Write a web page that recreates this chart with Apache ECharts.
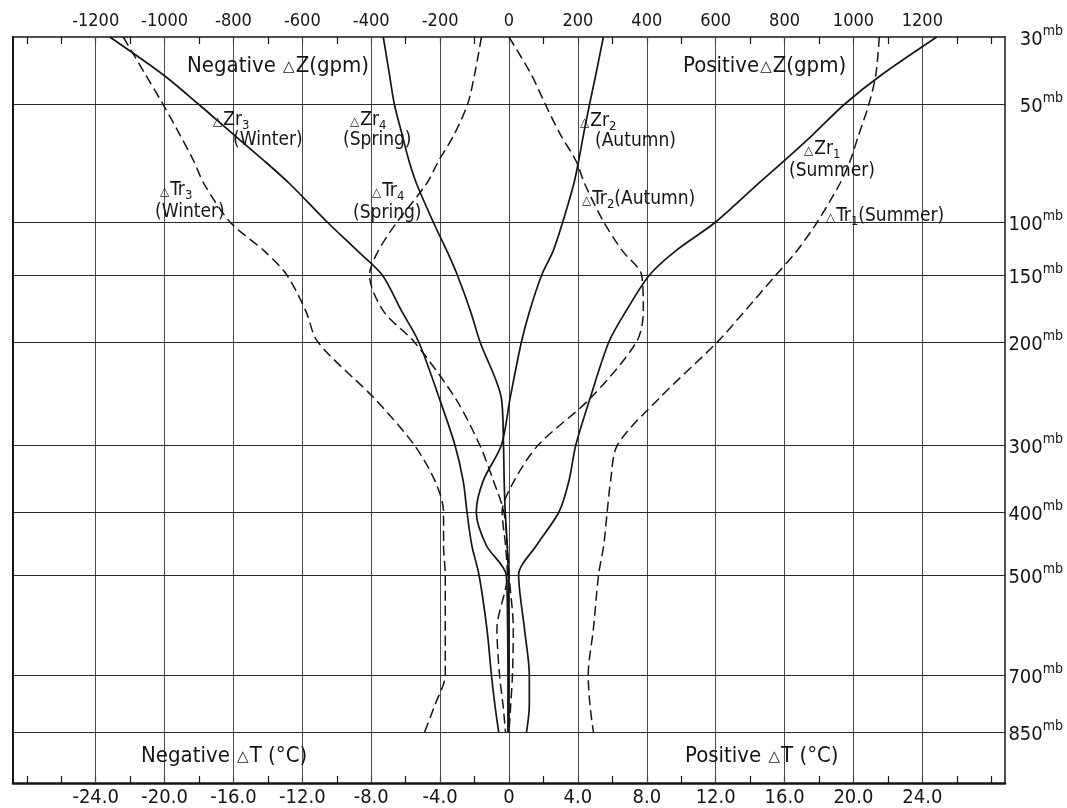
<!DOCTYPE html>
<html><head><meta charset="utf-8">
<script src="https://cdn.jsdelivr.net/npm/echarts@6/dist/echarts.min.js"></script>
<style>html,body{margin:0;padding:0;background:#fff}#c{width:1067px;height:808px}</style>
</head><body><div id="c"></div>
<script>
// ---- data ----
const pressure = [30, 40, 50, 60, 70, 80, 100, 125, 150, 175, 200, 250, 300, 350, 400, 450, 500, 600, 700, 775, 850];
// Height anomalies dZ (gpm), solid lines, top axis
const dzSummer = [1242, 1082, 975, 881, 797, 722, 600, 483, 408, 340, 290, 235, 194, 174, 145, 80, 28, 45, 59, 59, 51];
const dzAutumn = [274, 252, 234, 216, 202, 188, 156, 128, 95, 60, 36, 3, -22, -75, -95, -66, -8, -4, -3, -3, -3];
const dzWinter = [-1159, -1004, -902, -798, -709, -636, -528, -439, -368, -312, -262, -202, -157, -133, -122, -108, -87, -64, -51, -41, -30];
const dzSpring = [-365, -347, -333, -310, -290, -268, -220, -180, -150, -112, -84, -22, -16, -14, -11, -5, -2, 0, 0, -1, -1];
// Temperature anomalies dT (deg C), dashed lines, bottom axis
const dtSummer = [21.5, 21.3, 20.9, 20.3, 19.8, 19.2, 17.9, 16.7, 15.5, 13.7, 12.1, 8.7, 6.3, 5.9, 5.7, 5.5, 5.2, 4.9, 4.6, 4.7, 4.9];
const dtAutumn = [0.0, 1.3, 2.1, 3.0, 3.9, 4.4, 5.5, 6.6, 7.7, 7.8, 7.4, 4.7, 1.7, 0.3, -0.4, -0.2, -0.1, -0.7, -0.55, -0.35, -0.2];
const dtWinter = [-22.4, -21.1, -20.1, -19.1, -18.3, -17.7, -16.2, -14.2, -12.9, -11.8, -11.1, -7.8, -5.5, -4.3, -3.8, -3.8, -3.7, -3.7, -3.7, -4.3, -4.9];
const dtSpring = [-1.6, -2.0, -2.4, -3.2, -4.1, -4.8, -6.5, -7.6, -8.1, -7.3, -5.5, -3.1, -1.7, -0.9, -0.3, -0.1, 0.0, 0.25, 0.2, 0.1, 0.0];

// pressure levels and their place on the chart's vertical scale
const levels = [30, 50, 100, 150, 200, 300, 400, 500, 700, 850];
const levelHeight = [746, 679, 561, 508, 441, 338, 271, 208, 108, 51];

// tick labels
const zLabels = [-1200, -1000, -800, -600, -400, -200, 0, 200, 400, 600, 800, 1000, 1200];
const tLabels = [-24, -20, -16, -12, -8, -4, 0, 4, 8, 12, 16, 20, 24];

// ---- helpers ----
function pToH(p) {
  for (let i = 0; i < levels.length - 1; i++) {
    if (p >= levels[i] && p <= levels[i + 1]) {
      const f = Math.log(p / levels[i]) / Math.log(levels[i + 1] / levels[i]);
      return levelHeight[i] + f * (levelHeight[i + 1] - levelHeight[i]);
    }
  }
  return p < levels[0] ? levelHeight[0] : levelHeight[levelHeight.length - 1];
}
const zTicks = []; for (let v = -1400; v <= 1400; v += 100) zTicks.push(v);
const tTicks = []; for (let v = -28; v <= 28; v += 2) tTicks.push(v);

const FONT = '"Liberation Sans Narrow","DejaVu Sans Condensed","Roboto Condensed","Liberation Sans",sans-serif';
const INK = '#151515';

function curve(name, vals, xIdx, dashed) {
  return {
    name: name, type: 'line', xAxisIndex: xIdx, yAxisIndex: 0,
    data: pressure.map((p, i) => [vals[i], pToH(p)]),
    showSymbol: false, smooth: 0.3, z: 5, silent: true,
    lineStyle: { color: INK, width: dashed ? 1.5 : 1.7, type: dashed ? [10, 5] : 'solid' }
  };
}

const rich = {
  d: { fontFamily: 'DejaVu Sans', fontSize: 12, color: INK, verticalAlign: 'bottom', padding: [0, 1, 2, 0] },
  a: { fontFamily: FONT, fontSize: 19, color: INK, verticalAlign: 'bottom' },
  s: { fontFamily: FONT, fontSize: 13, color: INK, verticalAlign: 'bottom', padding: [0, 0, -3, 0] },
  big: { fontFamily: FONT, fontSize: 22, color: INK, verticalAlign: 'bottom' },
  bd: { fontFamily: 'DejaVu Sans', fontSize: 15, color: INK, verticalAlign: 'bottom', padding: [0, 1, 2, 1] }
};
function txt(x, y, text) {
  return { type: 'text', x: x, y: y, z: 10, silent: true,
    style: { text: text, rich: rich, align: 'left', verticalAlign: 'middle', fill: INK } };
}

const chart = echarts.init(document.getElementById('c'), null, { renderer: 'canvas' });
chart.setOption({
  animation: false,
  backgroundColor: '#fff',
  grid: { left: 13, right: 62, top: 37, bottom: 25 },
  xAxis: [
    { type: 'value', position: 'top', min: -1440, max: 1440,
      axisLine: { show: true, onZero: false, lineStyle: { color: INK, width: 1.5 } },
      axisTick: { show: true, inside: true, length: 7, customValues: zTicks, lineStyle: { color: INK, width: 1.2 } },
      axisLabel: { customValues: zLabels, fontFamily: FONT, fontSize: 18, color: INK, margin: 7,
        formatter: v => (v < 0 ? '-' + Math.abs(v) : String(v)) },
      splitLine: { show: false } },
    { type: 'value', position: 'bottom', min: -28.8, max: 28.8,
      axisLine: { show: true, onZero: false, lineStyle: { color: INK, width: 2.5 } },
      axisTick: { show: true, inside: true, length: 7, customValues: tTicks, lineStyle: { color: INK, width: 1.2 } },
      axisLabel: { customValues: tLabels, fontFamily: FONT, fontSize: 20, color: INK, margin: 5,
        formatter: v => (v === 0 ? '0' : v.toFixed(1)) },
      splitLine: { show: false } }
  ],
  yAxis: [
    { type: 'value', position: 'left', min: 0, max: 746,
      axisLine: { show: true, onZero: false, lineStyle: { color: INK, width: 2 } },
      axisTick: { show: false }, axisLabel: { show: false }, splitLine: { show: false } },
    { type: 'value', position: 'right', min: 0, max: 746,
      axisLine: { show: true, onZero: false, lineStyle: { color: INK, width: 1.5 } },
      axisTick: { show: false }, splitLine: { show: false },
      axisLabel: { customValues: levelHeight, margin: 58, align: 'right',
        formatter: v => {
          let k = 0; levelHeight.forEach((h, i) => { if (Math.abs(h - v) < Math.abs(levelHeight[k] - v)) k = i; });
          return '{n|' + levels[k] + '}{m|mb}';
        },
        rich: {
          n: { fontFamily: FONT, fontSize: 20, color: INK, verticalAlign: 'bottom', padding: [6, 0, 0, 0] },
          m: { fontFamily: FONT, fontSize: 14, color: INK, verticalAlign: 'top' }
        } } }
  ],
  series: [
    { type: 'line', xAxisIndex: 0, yAxisIndex: 0, data: [], silent: true, z: 1,
      markLine: { silent: true, symbol: ['none', 'none'], animation: false, label: { show: false },
        lineStyle: { color: '#4a4a4a', width: 1, type: 'solid' },
        data: zLabels.map(v => ({ xAxis: v })).concat(levelHeight.slice(1).map(h => ({ yAxis: h, lineStyle: { color: '#2a2a2a', width: 1.2, type: 'solid' } }))) } },
    curve('ΔZr1 Summer', dzSummer, 0, false),
    curve('ΔZr2 Autumn', dzAutumn, 0, false),
    curve('ΔZr3 Winter', dzWinter, 0, false),
    curve('ΔZr4 Spring', dzSpring, 0, false),
    curve('ΔTr1 Summer', dtSummer, 1, true),
    curve('ΔTr2 Autumn', dtAutumn, 1, true),
    curve('ΔTr3 Winter', dtWinter, 1, true),
    curve('ΔTr4 Spring', dtSpring, 1, true)
  ],
  graphic: [
    txt(187, 66, '{big|Negative }{bd|△}{big|Z(gpm)}'),
    txt(683, 66, '{big|Positive}{bd|△}{big|Z(gpm)}'),
    txt(141, 756, '{big|Negative }{bd|△}{big|T (°C)}'),
    txt(685, 756, '{big|Positive }{bd|△}{big|T (°C)}'),
    txt(213, 120, '{d|△}{a|Zr}{s|3}'),
    txt(233, 140, '{a|(Winter)}'),
    txt(350, 120, '{d|△}{a|Zr}{s|4}'),
    txt(343, 140, '{a|(Spring)}'),
    txt(160, 190, '{d|△}{a|Tr}{s|3}'),
    txt(155, 212, '{a|(Winter)}'),
    txt(372, 191, '{d|△}{a|Tr}{s|4}'),
    txt(353, 213, '{a|(Spring)}'),
    txt(580, 121, '{d|△}{a|Zr}{s|2}'),
    txt(595, 141, '{a|(Autumn)}'),
    txt(582, 199, '{d|△}{a|Tr}{s|2}{a|(Autumn)}'),
    txt(804, 149, '{d|△}{a|Zr}{s|1}'),
    txt(789, 171, '{a|(Summer)}'),
    txt(826, 216, '{d|△}{a|Tr}{s|1}{a|(Summer)}')
  ]
});
</script></body></html>
